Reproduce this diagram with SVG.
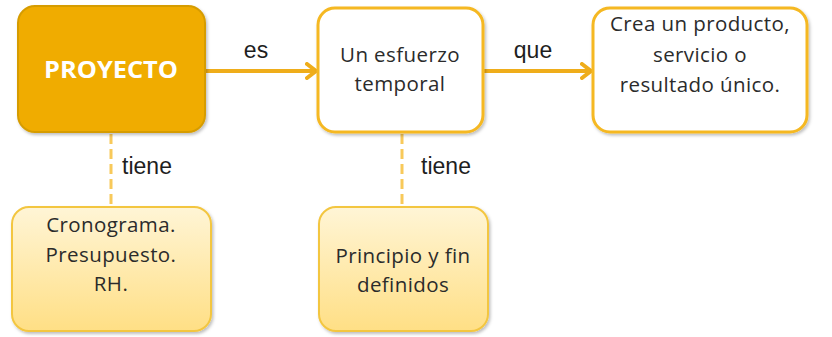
<svg xmlns="http://www.w3.org/2000/svg" width="832" height="337" viewBox="0 0 832 337">
<defs>
<linearGradient id="g" x1="0" y1="0" x2="0" y2="1">
<stop offset="0" stop-color="#FFF5D6"/>
<stop offset="1" stop-color="#FFDF85"/>
</linearGradient>
<filter id="sh" x="-10%" y="-10%" width="125%" height="125%">
<feDropShadow dx="1.5" dy="2" stdDeviation="1.5" flood-color="#000" flood-opacity="0.25"/>
</filter>
<marker id="arr" viewBox="0 0 12 18" refX="11" refY="9" markerWidth="12" markerHeight="18" markerUnits="userSpaceOnUse" orient="auto">
<path d="M2 2 L11 9 L2 16" fill="none" stroke="#EFAD1A" stroke-width="4" stroke-linecap="round" stroke-linejoin="round"/>
</marker>
</defs>
<style>
.main{fill:#F0AC00;stroke:#D69C06;stroke-width:2}
.white{fill:#fff;stroke:#F5B820;stroke-width:3}
.light{fill:url(#g);stroke:#F3C641;stroke-width:2}
.t{font-family:"Open Sans","Noto Sans",sans-serif;font-size:20.5px;fill:#2b2b2b;text-anchor:middle;letter-spacing:0.4px}
.lbl{font-family:"Liberation Sans",Arial,sans-serif;font-size:23px;fill:#1e1e1e;text-anchor:middle}
.c{stroke:#EFAD1A;stroke-width:4;fill:none}
.d{stroke:#F8C95A;stroke-width:3;fill:none;stroke-dasharray:10 5}
</style>
<g id="connectors">
<line class="c" x1="206" y1="71" x2="316" y2="71" marker-end="url(#arr)"/>
<text class="lbl" x="256" y="58">es</text>
<line class="c" x1="484" y1="71" x2="591" y2="71" marker-end="url(#arr)"/>
<text class="lbl" x="533" y="58">que</text>
<line class="d" x1="111" y1="134" x2="111" y2="206"/>
<text class="lbl" x="147" y="174">tiene</text>
<line class="d" x1="402" y1="134" x2="402" y2="206"/>
<text class="lbl" x="446" y="174">tiene</text>
</g>
<g id="proyecto">
<rect class="main" x="18" y="6" width="187" height="126" rx="17" filter="url(#sh)"/>
<text x="111" y="78" font-family="Open Sans,Noto Sans,sans-serif" font-weight="bold" font-size="24" fill="#fff" text-anchor="middle" textLength="134" lengthAdjust="spacingAndGlyphs">PROYECTO</text>
</g>
<g id="esfuerzo">
<rect class="white" x="318" y="8" width="165" height="124" rx="17" filter="url(#sh)"/>
<text class="t" x="400" y="62">Un esfuerzo</text>
<text class="t" x="400" y="91">temporal</text>
</g>
<g id="resultado">
<rect class="white" x="593" y="8" width="214" height="124" rx="17" filter="url(#sh)"/>
<text class="t" x="700" y="31">Crea un producto,</text>
<text class="t" x="700" y="62">servicio o</text>
<text class="t" x="700" y="92">resultado único.</text>
</g>
<g id="cronograma">
<rect class="light" x="12" y="207" width="199" height="124" rx="17" filter="url(#sh)"/>
<text class="t" x="111" y="232">Cronograma.</text>
<text class="t" x="111" y="262">Presupuesto.</text>
<text class="t" x="111" y="291">RH.</text>
</g>
<g id="principio">
<rect class="light" x="319" y="207" width="169" height="124" rx="17" filter="url(#sh)"/>
<text class="t" x="403" y="263">Principio y fin</text>
<text class="t" x="403" y="292">definidos</text>
</g>
</svg>
